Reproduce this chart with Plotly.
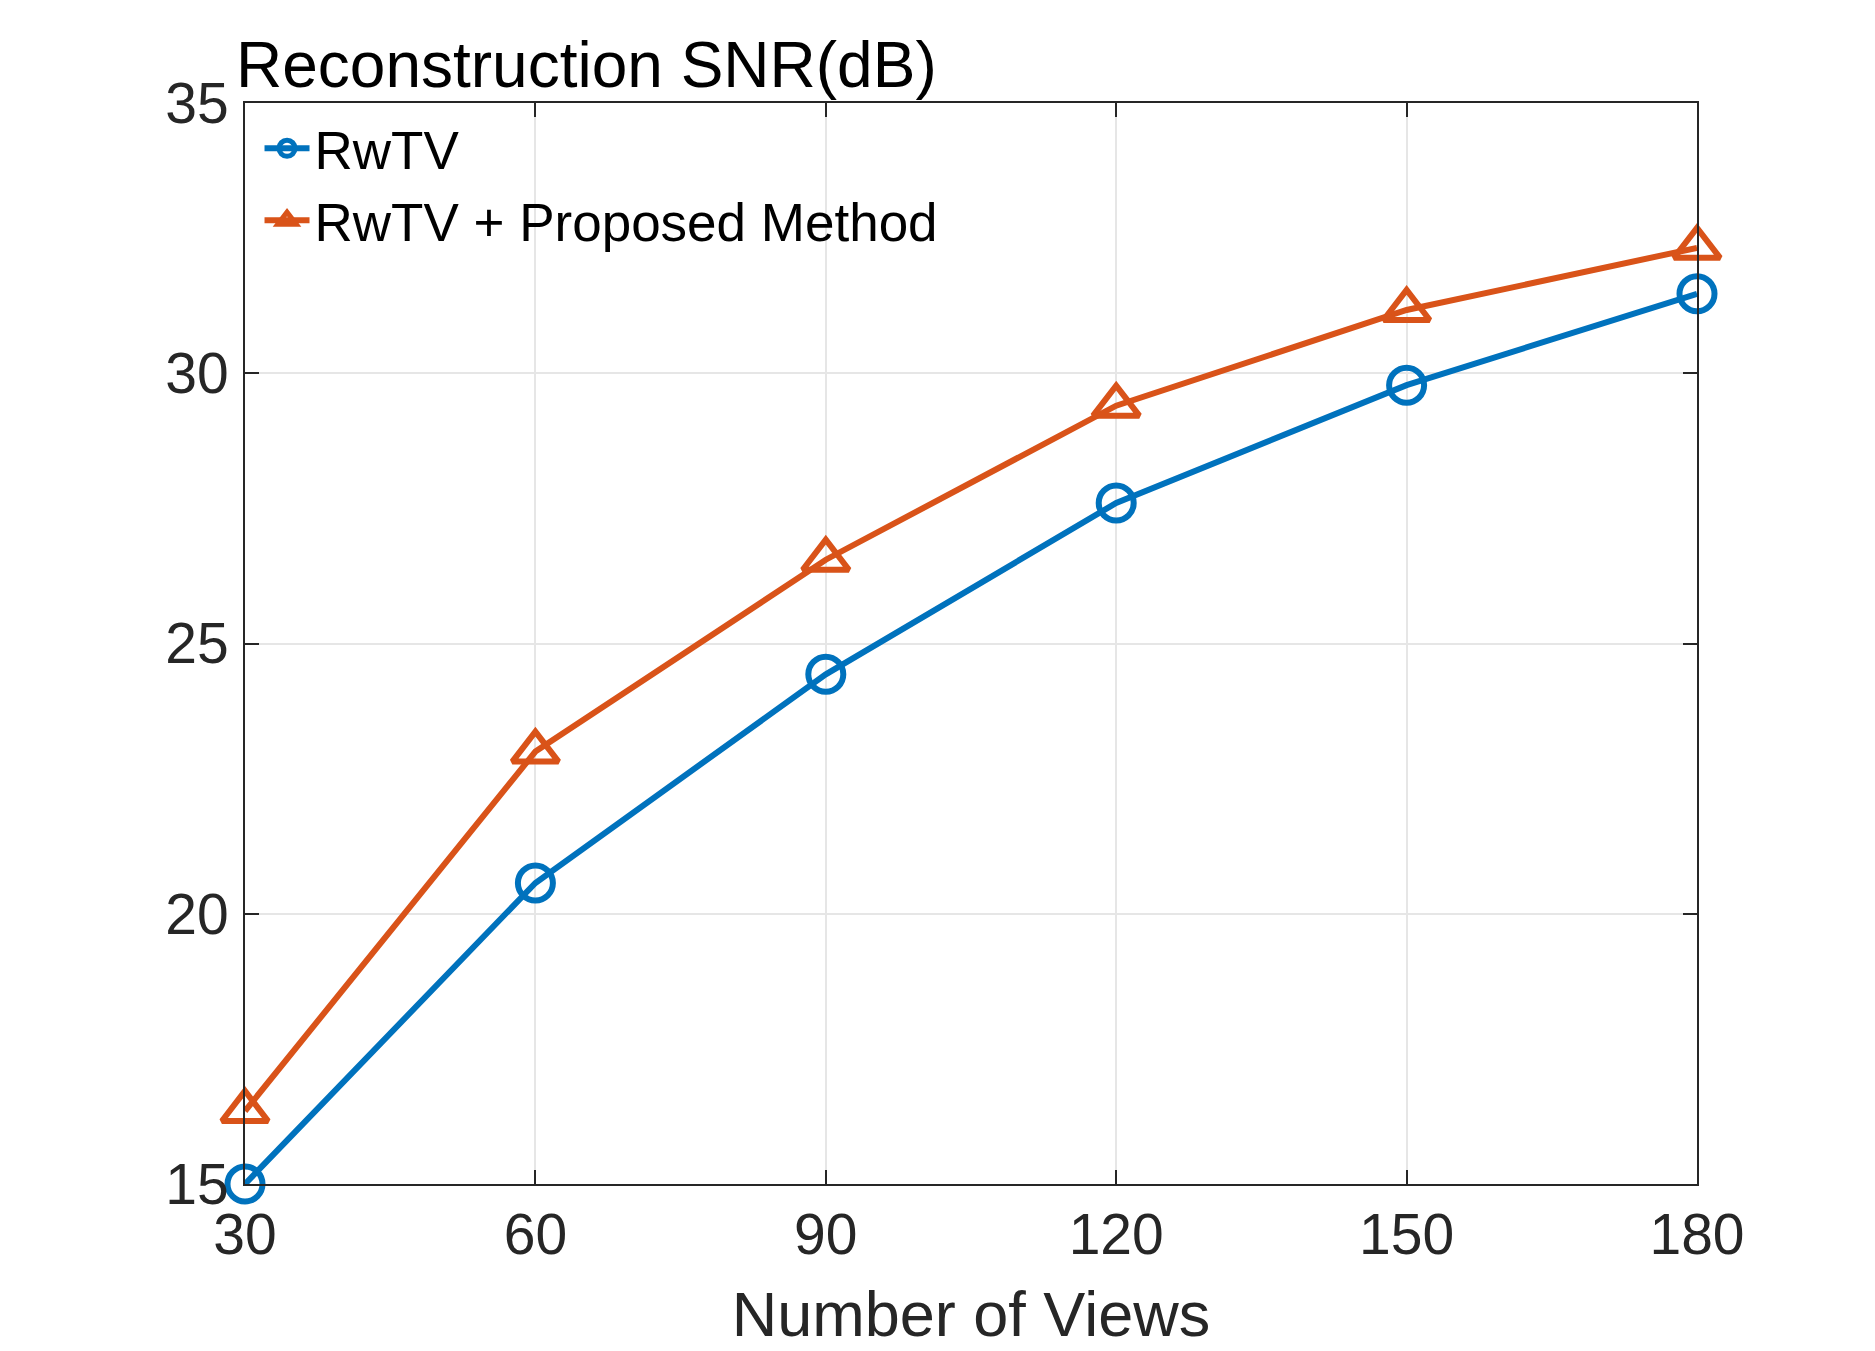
import plotly.graph_objects as go

# Data
views = [30, 60, 90, 120, 150, 180]
snr_rwtv = [15.0, 20.57, 24.43, 27.6, 29.78, 31.47]
snr_proposed = [16.35, 23.0, 26.55, 29.4, 31.17, 32.32]

x_ticks = [30, 60, 90, 120, 150, 180]
y_ticks = [15, 20, 25, 30, 35]

font_family = "Liberation Sans, Arial, Helvetica, sans-serif"
tick_color = "#262626"

fig = go.Figure()

fig.add_trace(go.Scatter(
    x=views, y=snr_rwtv, name="RwTV",
    mode="lines+markers", cliponaxis=False,
    line=dict(color="#0072BD", width=6),
    marker=dict(symbol="circle-open", size=35, color="#0072BD", line=dict(width=6, color="#0072BD")),
))
fig.add_trace(go.Scatter(
    x=views, y=snr_proposed, name="RwTV + Proposed Method",
    mode="lines+markers", cliponaxis=False,
    line=dict(color="#D95319", width=6),
    marker=dict(symbol="triangle-up-open", size=40, color="#D95319", line=dict(width=6, color="#D95319")),
))

axis_common = dict(
    showline=True, linecolor=tick_color, linewidth=2, mirror="ticks",
    ticks="inside", ticklen=14, tickwidth=2, tickcolor=tick_color,
    showgrid=True, gridcolor="#e6e6e6", gridwidth=1.5,
    zeroline=False,
    tickfont=dict(family=font_family, size=57, color=tick_color),
)

fig.update_xaxes(
    range=[30, 180], tickvals=x_ticks,
    title=dict(text="Number of Views", font=dict(family=font_family, size=63, color=tick_color), standoff=26),
    **axis_common,
)
fig.update_yaxes(
    range=[15, 35], tickvals=y_ticks, ticklabelstandoff=3,
    **axis_common,
)

# y-axis label sits above the axes, left aligned (as in the original figure)
fig.add_annotation(
    text="Reconstruction SNR(dB)", xref="paper", yref="paper",
    x=0, y=1, xanchor="left", yanchor="bottom", xshift=-11, yshift=0,
    showarrow=False, font=dict(family=font_family, size=64, color="black"),
)

fig.update_layout(
    width=1875, height=1351,
    margin=dict(l=237, r=186, t=95, b=175),
    paper_bgcolor="white", plot_bgcolor="white",
    showlegend=True,
    legend=dict(
        x=0.01, y=0.996, xanchor="left", yanchor="top",
        bgcolor="rgba(255,255,255,0)",
        font=dict(family=font_family, size=53, color="black"),
        tracegroupgap=0, itemwidth=45,
    ),
)

fig.write_html("out.html")
